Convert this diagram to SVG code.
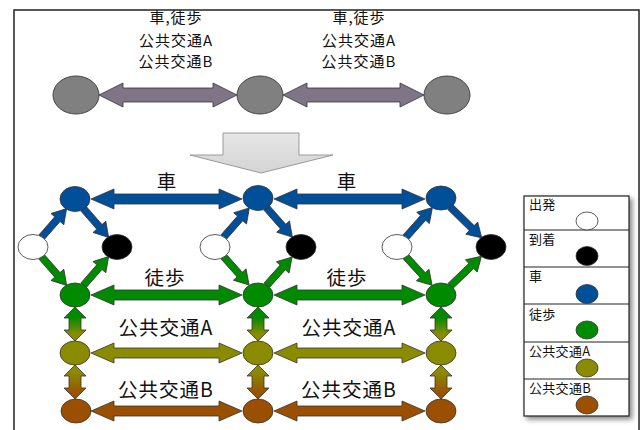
<svg xmlns="http://www.w3.org/2000/svg" width="643" height="430" viewBox="0 0 643 430">
<style>
text{font-family:"Noto Sans CJK JP","Noto Sans CJK SC",sans-serif;fill:#111}
.top{font-size:15px;letter-spacing:1px;text-anchor:middle}
.lbl{font-size:19.5px;letter-spacing:1px;text-anchor:middle}
.leg{font-size:13px;letter-spacing:0.3px}
.st{stroke:#333;stroke-width:0.8}
.gray{fill:#808080;stroke:#444;stroke-width:1}
.garr{fill:#7e7686;stroke:#333;stroke-width:0.8}
.blue{fill:#004f98}
.green{fill:#008a00}
.olive{fill:#8b8b00}
.brown{fill:#9b4f00}
.white{fill:#fff}
.black{fill:#000}
.line{stroke:#222;stroke-width:1}
</style>
<defs>
<linearGradient id="gGO" x1="0" y1="0" x2="0" y2="1"><stop offset="0.3" stop-color="#008a00"/><stop offset="0.8" stop-color="#8b8b00"/></linearGradient>
<linearGradient id="gOB" x1="0" y1="0" x2="0" y2="1"><stop offset="0.2" stop-color="#8b8b00"/><stop offset="0.85" stop-color="#9b4f00"/></linearGradient>
<linearGradient id="gDown" x1="0" y1="0" x2="0" y2="1"><stop offset="0" stop-color="#e6e6e6"/><stop offset="1" stop-color="#d4d4d4"/></linearGradient>
<filter id="sh" x="-10%" y="-10%" width="130%" height="130%"><feDropShadow dx="3" dy="3" stdDeviation="2.5" flood-color="#000" flood-opacity="0.45"/></filter>
</defs>
<rect x="14" y="10" width="625" height="440" fill="#fff" stroke="#222" stroke-width="1.5"/>

<g id="top-labels">
<text class="top" x="176" y="23">車,徒歩</text>
<text class="top" x="176" y="46">公共交通A</text>
<text class="top" x="176" y="67">公共交通B</text>
<text class="top" x="359" y="23">車,徒歩</text>
<text class="top" x="359" y="46">公共交通A</text>
<text class="top" x="359" y="67">公共交通B</text>
</g>

<g id="connectors">
<path class="garr" d="M99,95 L123,83 V88 H213 V83 L237,95 L213,107 V102 H123 V107 Z"/>
<path class="garr" d="M283,95 L307,83 V88 H400 V83 L424,95 L400,107 V102 H307 V107 Z"/>
<path id="down-arrow" d="M223,133 H299 V155 H333 L261,173 L190,155 H223 Z" fill="url(#gDown)" stroke="#9a9a9a" stroke-width="1"/>

<path class="blue st" d="M91,199 L114,189 V194 H219 V189 L242,199 L219,209 V204 H114 V209 Z"/>
<path class="blue st" d="M274,199 L297,189 V194 H402 V189 L425,199 L402,209 V204 H297 V209 Z"/>
<path class="green st" d="M91,295 L114,285 V290 H219 V285 L242,295 L219,305 V300 H114 V305 Z"/>
<path class="green st" d="M274,295 L297,285 V290 H402 V285 L425,295 L402,305 V300 H297 V305 Z"/>
<path class="olive st" d="M91,353 L114,343 V348 H219 V343 L242,353 L219,363 V358 H114 V363 Z"/>
<path class="olive st" d="M274,353 L297,343 V348 H402 V343 L425,353 L402,363 V358 H297 V363 Z"/>
<path class="brown st" d="M91,411 L114,401 V406 H219 V401 L242,411 L219,421 V416 H114 V421 Z"/>
<path class="brown st" d="M274,411 L297,401 V406 H402 V401 L425,411 L402,421 V416 H297 V421 Z"/>

<path class="st" fill="url(#gGO)" d="M75,307 L86,318 H81 V330 H86 L75,341 L64,330 H69 V318 H64 Z"/>
<path class="st" fill="url(#gGO)" d="M258,307 L269,318 H264 V330 H269 L258,341 L247,330 H252 V318 H247 Z"/>
<path class="st" fill="url(#gGO)" d="M441,307 L452,318 H447 V330 H452 L441,341 L430,330 H435 V318 H430 Z"/>
<path class="st" fill="url(#gOB)" d="M75,365 L86,376 H81 V388 H86 L75,399 L64,388 H69 V376 H64 Z"/>
<path class="st" fill="url(#gOB)" d="M258,365 L269,376 H264 V388 H269 L258,399 L247,388 H252 V376 H247 Z"/>
<path class="st" fill="url(#gOB)" d="M441,365 L452,376 H447 V388 H452 L441,399 L430,388 H435 V376 H430 Z"/>

<path class="blue st" transform="translate(41.6,237.2) rotate(-48.8)" d="M0,-3.5 H24 V-8.5 L38,0 L24,8.5 V3.5 H0 Z"/>
<path class="blue st" transform="translate(83.6,208.8) rotate(48.8)" d="M0,-3.5 H24 V-8.5 L38,0 L24,8.5 V3.5 H0 Z"/>
<path class="green st" transform="translate(41.6,256.8) rotate(48.8)" d="M0,-3.5 H24 V-8.5 L38,0 L24,8.5 V3.5 H0 Z"/>
<path class="green st" transform="translate(83.6,285.2) rotate(-48.8)" d="M0,-3.5 H24 V-8.5 L38,0 L24,8.5 V3.5 H0 Z"/>

<path class="blue st" transform="translate(223.6,237.2) rotate(-48.7)" d="M0,-3.5 H25 V-8.5 L39,0 L25,8.5 V3.5 H0 Z"/>
<path class="blue st" transform="translate(266.6,207.8) rotate(48.7)" d="M0,-3.5 H25 V-8.5 L39,0 L25,8.5 V3.5 H0 Z"/>
<path class="green st" transform="translate(223.7,256.7) rotate(48.1)" d="M0,-3.5 H24 V-8.5 L38,0 L24,8.5 V3.5 H0 Z"/>
<path class="green st" transform="translate(266.7,285.3) rotate(-48.1)" d="M0,-3.5 H24 V-8.5 L38,0 L24,8.5 V3.5 H0 Z"/>

<path class="blue st" transform="translate(405.7,237.3) rotate(-48.1)" d="M0,-3.5 H26 V-8.5 L40,0 L26,8.5 V3.5 H0 Z"/>
<path class="blue st" transform="translate(450.3,207.1) rotate(44.4)" d="M0,-3.5 H30 V-8.5 L44,0 L30,8.5 V3.5 H0 Z"/>
<path class="green st" transform="translate(405.8,256.6) rotate(47.5)" d="M0,-3.5 H25 V-8.5 L39,0 L25,8.5 V3.5 H0 Z"/>
<path class="green st" transform="translate(450.4,286.0) rotate(-43.8)" d="M0,-3.5 H29 V-8.5 L43,0 L29,8.5 V3.5 H0 Z"/>
</g>

<g id="top-nodes">
<ellipse id="t1" class="gray" cx="76" cy="95" rx="23" ry="19"/>
<ellipse id="t2" class="gray" cx="260" cy="95" rx="23" ry="19"/>
<ellipse id="t3" class="gray" cx="447" cy="95" rx="23" ry="19"/>
</g>

<g id="col1">
<ellipse id="n1-car" class="blue st" cx="75" cy="199" rx="15" ry="12.5"/>
<ellipse id="n1-start" class="white st" cx="33" cy="247" rx="15" ry="12.5"/>
<ellipse id="n1-end" class="black st" cx="117" cy="247" rx="15" ry="12.5"/>
<ellipse id="n1-walk" class="green st" cx="75" cy="295" rx="15" ry="12"/>
<ellipse id="n1-pa" class="olive st" cx="75" cy="353" rx="15" ry="12"/>
<ellipse id="n1-pb" class="brown st" cx="76" cy="411" rx="15" ry="12"/>
</g>
<g id="col2">
<ellipse id="n2-car" class="blue st" cx="258" cy="198" rx="15" ry="12.5"/>
<ellipse id="n2-start" class="white st" cx="215" cy="247" rx="15" ry="12.5"/>
<ellipse id="n2-end" class="black st" cx="301" cy="247" rx="15" ry="12.5"/>
<ellipse id="n2-walk" class="green st" cx="258" cy="295" rx="15" ry="12"/>
<ellipse id="n2-pa" class="olive st" cx="258" cy="353" rx="15" ry="12"/>
<ellipse id="n2-pb" class="brown st" cx="258" cy="411" rx="15" ry="12"/>
</g>
<g id="col3">
<ellipse id="n3-car" class="blue st" cx="441" cy="198" rx="15" ry="12"/>
<ellipse id="n3-start" class="white st" cx="397" cy="247" rx="15" ry="12.5"/>
<ellipse id="n3-end" class="black st" cx="491" cy="247" rx="15" ry="12.5"/>
<ellipse id="n3-walk" class="green st" cx="441" cy="295" rx="15" ry="12"/>
<ellipse id="n3-pa" class="olive st" cx="441" cy="353" rx="15" ry="12"/>
<ellipse id="n3-pb" class="brown st" cx="441" cy="411" rx="15" ry="12"/>
</g>

<g id="edge-labels">
<text class="lbl" x="167" y="189">車</text>
<text class="lbl" x="347" y="189">車</text>
<text class="lbl" x="165" y="285">徒歩</text>
<text class="lbl" x="347" y="285">徒歩</text>
<text class="lbl" x="166" y="335">公共交通A</text>
<text class="lbl" x="349" y="335">公共交通A</text>
<text class="lbl" x="166" y="397">公共交通B</text>
<text class="lbl" x="349" y="397">公共交通B</text>
</g>

<g id="legend">
<rect x="524" y="196" width="105" height="220" fill="#fff" stroke="#222" stroke-width="1.2" filter="url(#sh)"/>
<line class="line" x1="524" y1="230" x2="629" y2="230"/>
<line class="line" x1="524" y1="267" x2="629" y2="267"/>
<line class="line" x1="524" y1="304" x2="629" y2="304"/>
<line class="line" x1="524" y1="342" x2="629" y2="342"/>
<line class="line" x1="524" y1="379" x2="629" y2="379"/>
<text class="leg" x="529" y="209">出発</text>
<text class="leg" x="529" y="244">到着</text>
<text class="leg" x="529" y="281">車</text>
<text class="leg" x="529" y="319">徒歩</text>
<text class="leg" x="529" y="356">公共交通A</text>
<text class="leg" x="529" y="393">公共交通B</text>
<ellipse class="white st" cx="587" cy="221" rx="11" ry="9"/>
<ellipse class="black st" cx="587" cy="256" rx="11" ry="9.5"/>
<ellipse class="blue st" cx="587" cy="294" rx="11" ry="9.5"/>
<ellipse class="green st" cx="587" cy="330" rx="11" ry="9"/>
<ellipse class="olive st" cx="587" cy="368" rx="11" ry="9"/>
<ellipse class="brown st" cx="587" cy="405" rx="11" ry="9"/>
</g>
</svg>
